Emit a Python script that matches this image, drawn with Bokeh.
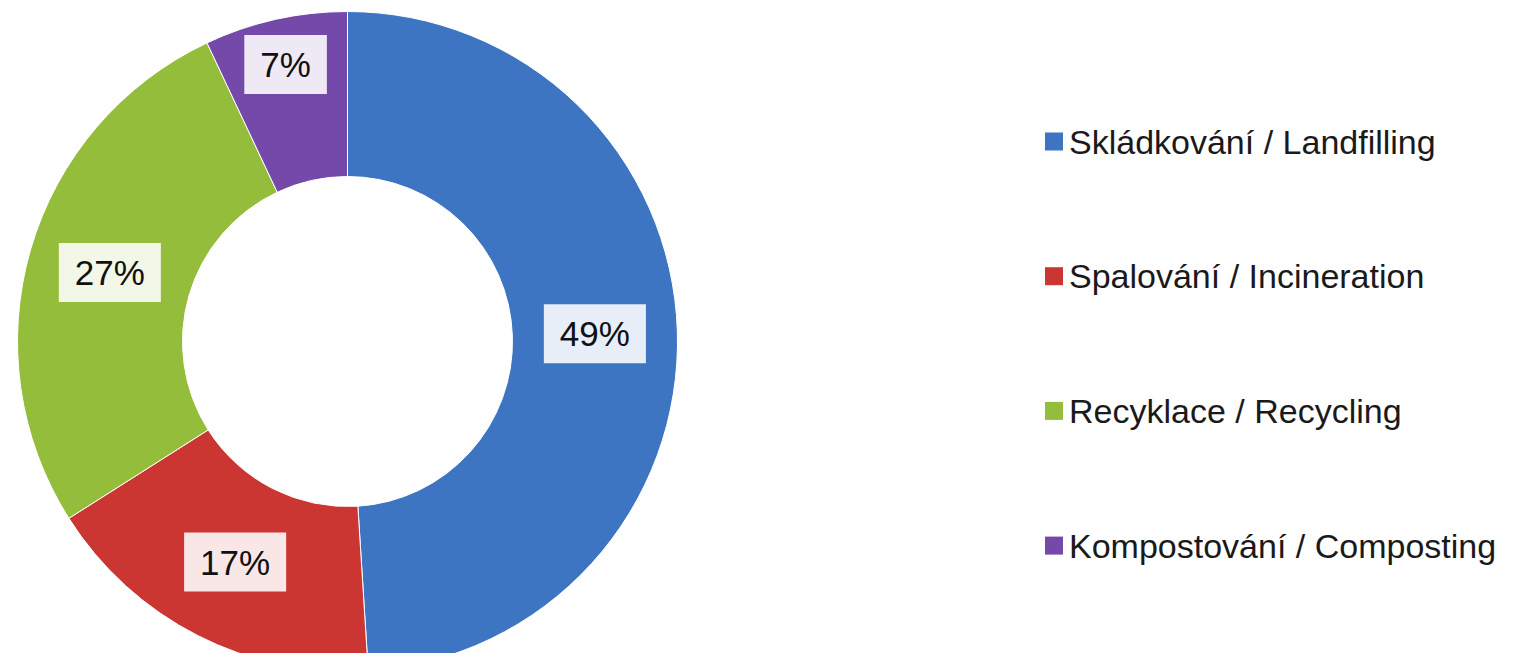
import math
from bokeh.plotting import figure
from bokeh.models import ColumnDataSource, Range1d
from bokeh.core.properties import value
from bokeh.embed import file_html
from bokeh.resources import INLINE

# ---- data ----
categories = ["Skládkování / Landfilling", "Spalování / Incineration",
              "Recyklace  / Recycling", "Kompostování / Composting"]
shares = [49, 17, 27, 7]
labels = ["49%", "17%", "27%", "7%"]
colors = ["#3d75c3", "#cb3633", "#95bd3c", "#7549a9"]

# ---- layout (pixels) ----
W, H = 1502, 653
cx, cy = 347, 312
r_out, r_in = 330, 165
label_frac = [0.5, 0.5, 0.5, 0.72]   # position of label across the ring
FONT = "Liberation Sans"

total = float(sum(shares))
starts, ends, lx, ly = [], [], [], []
cum = 0.0
for s, f in zip(shares, label_frac):
    a0 = math.pi / 2 - 2 * math.pi * cum / total
    a1 = math.pi / 2 - 2 * math.pi * (cum + s) / total
    starts.append(a0)
    ends.append(a1)
    mid = (a0 + a1) / 2
    r = r_in + f * (r_out - r_in)
    lx.append(cx + r * math.cos(mid))
    ly.append(cy + r * math.sin(mid))
    cum += s

src = ColumnDataSource(dict(start=starts, end=ends, color=colors, cat=categories,
                            lx=lx, ly=ly, label=labels))

p = figure(width=W, height=H, output_backend="svg", toolbar_location=None,
           x_range=Range1d(0, W), y_range=Range1d(0, H), min_border=0,
           background_fill_color="white", border_fill_color="white")
p.axis.visible = False
p.grid.visible = False
p.outline_line_color = None

p.annular_wedge(x=cx, y=cy, inner_radius=r_in, outer_radius=r_out,
                start_angle="start", end_angle="end", direction="clock",
                fill_color="color", line_color="white", line_width=1, source=src)

p.text(x="lx", y="ly", text="label", source=src, text_align="center",
       text_baseline="middle", text_font=value(FONT), text_font_size="35px",
       text_color="#111111", background_fill_color="white",
       background_fill_alpha=0.88, padding=(16, 10))

# ---- legend (manual) ----
leg_x, leg_y0, leg_dy = 1053.5, 512, 134.7
n = len(categories)
lsrc = ColumnDataSource(dict(x=[leg_x] * n, y=[leg_y0 - i * leg_dy for i in range(n)],
                             tx=[leg_x + 15] * n, color=colors, cat=categories))
p.scatter(x="x", y="y", marker="square", size=18, fill_color="color",
          line_color=None, source=lsrc)
p.text(x="tx", y="y", text="cat", source=lsrc, text_align="left",
       text_baseline="middle", text_font=value(FONT), text_font_size="34px",
       text_color="#1a1a1a")

open("out.html", "w").write(file_html(p, INLINE))
